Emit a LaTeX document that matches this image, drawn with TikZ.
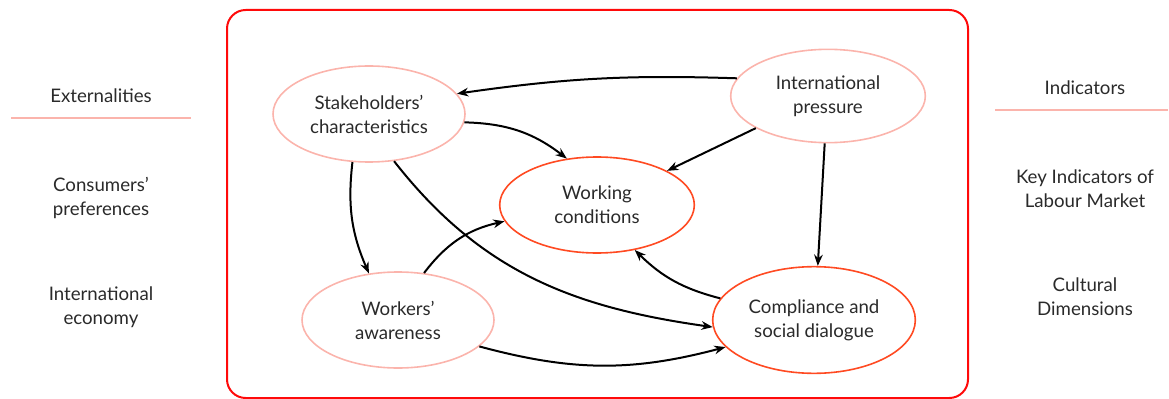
\documentclass[tikz,border=0pt]{standalone}
\usepackage{fontspec}
\setmainfont{Lato}
\usetikzlibrary{arrows.meta,shapes.geometric}

\definecolor{framered}{HTML}{FF0A0A}
\definecolor{corered}{HTML}{FF4A22}
\definecolor{softpink}{HTML}{FBB4AC}
\definecolor{textgray}{HTML}{2A2A2A}

\begin{document}
\begin{tikzpicture}[x=0.75pt, y=-0.75pt, > = {Stealth[length=8.5pt,width=6.5pt]},
    factor/.style = {ellipse, draw=softpink, line width=1.2pt, minimum width=144pt, minimum height=72pt, inner sep=0pt, align=center, text=textgray, font=\fontsize{14}{18}\selectfont},
    core/.style = {factor, draw=corered},
    side/.style = {align=center, text=textgray, font=\fontsize{14}{18}\selectfont},
    link/.style = {->, line width=1.5pt, black}]

    \useasboundingbox (0,0) rectangle (1169,399);

    % frame
    \draw[framered, line width=1.5pt, rounded corners=14pt] (227,10) rectangle (968,398);

    % left column
    \node[side] (ext) at (101,96) {Externalities};
    \draw[softpink, line width=0.8pt] (11,118) coordinate (extl) -- (191,118) coordinate (extr);
    \node[side] (cons) at (101,198) {Consumers'\\preferences};
    \node[side] (inte) at (101,307) {International\\economy};

    % right column
    \node[side] (ind) at (1085,88) {Indicators};
    \draw[softpink, line width=0.8pt] (995,110) coordinate (indl) -- (1168,110) coordinate (indr);
    \node[side] (kilm) at (1085,189) {Key Indicators of\\Labour Market};
    \node[side] (cult) at (1085,297) {Cultural\\Dimensions};

    % factors
    \node[factor] (sh) at (369,114) {Stakeholders'\\characteristics};
    \node[factor, minimum width=146pt, minimum height=70pt] (ip) at (828,96) {International\\pressure};
    \node[core, minimum width=146pt] (wc) at (597,205) {Working\\conditions};
    \node[factor] (wa) at (398,320) {Workers'\\awareness};
    \node[core, minimum width=152pt, minimum height=80pt] (cs) at (814,320) {Compliance and\\social dialogue};

    % links
    \draw[link] (ip.169) to[bend right=5] (sh.13);
    \draw[link] (sh.-5) to[bend left=18] (wc.123);
    \draw[link] (ip.204) -- (wc.26);
    \draw[link] (ip.-94) -- (cs.86);
    \draw[link] (sh.-109) to[bend right=15] (wa.122);
    \draw[link] (sh.-62) to[out=-52, in=172] (cs.184);
    \draw[link] (wa.61) to[bend left=20] (wc.190);
    \draw[link] (cs.167) to[bend left=15] (wc.-50);
    \draw[link] (wa.-18) to[bend right=15] (cs.197);

\end{tikzpicture}
\end{document}
